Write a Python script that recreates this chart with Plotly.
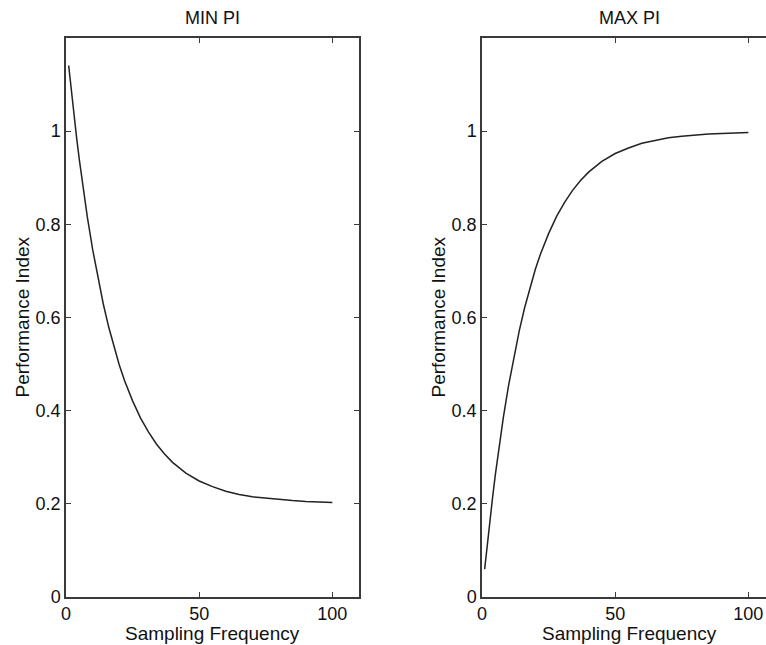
import plotly.graph_objects as go

freq = [1, 2, 3, 4, 5, 6, 8, 10, 12, 14, 16, 18, 20, 22, 25, 28, 31, 34, 37, 40,
        45, 50, 55, 60, 65, 70, 75, 80, 85, 90, 95, 100]
min_pi = [1.141, 1.086, 1.034, 0.985, 0.939, 0.895, 0.816, 0.746, 0.684, 0.629,
          0.580, 0.537, 0.498, 0.464, 0.421, 0.384, 0.354, 0.328, 0.307, 0.289,
          0.266, 0.249, 0.237, 0.227, 0.220, 0.215, 0.212, 0.209, 0.207, 0.205,
          0.204, 0.203]
max_pi = [0.060, 0.115, 0.166, 0.215, 0.262, 0.306, 0.385, 0.455, 0.517, 0.572,
          0.621, 0.664, 0.703, 0.737, 0.780, 0.817, 0.847, 0.873, 0.894, 0.912,
          0.935, 0.952, 0.964, 0.974, 0.980, 0.986, 0.989, 0.992, 0.994, 0.995,
          0.996, 0.997]
titles = ["MIN PI", "MAX PI"]
x_title = "Sampling Frequency"
y_title = "Performance Index"
y_tickvals = [0, 0.2, 0.4, 0.6, 0.8, 1.0]
y_ticktext = ["0", "0.2", "0.4", "0.6", "0.8", "1"]
x_tickvals = [0, 50, 100]
x_ticktext = ["0", "50", "100"]

FONT = "Liberation Sans, Arial, Helvetica, sans-serif"
AX = "#3a3a3a"
W, H = 766, 645
L1, R1 = 66, 359
L2, R2 = 482, 766
TOP, BOT = 38, 597
PH = BOT - TOP


def py(ypx):
    return (BOT - ypx) / PH


fig = go.Figure()
fig.add_trace(go.Scatter(x=freq, y=min_pi, mode="lines", line=dict(color="#222", width=1.5),
                         xaxis="x", yaxis="y", showlegend=False))
fig.add_trace(go.Scatter(x=freq, y=max_pi, mode="lines", line=dict(color="#222", width=1.5),
                         xaxis="x2", yaxis="y2", showlegend=False))

common_x = dict(tickvals=x_tickvals, ticktext=x_ticktext, ticks="inside", ticklen=5,
                tickcolor=AX, tickwidth=1.2, showline=True, linecolor=AX, linewidth=1.5,
                showgrid=False, zeroline=False, automargin=False,
                tickfont=dict(size=18, color="#111", family=FONT))
common_y = dict(tickvals=y_tickvals, ticktext=y_ticktext, ticks="inside", ticklen=5,
                tickcolor=AX, tickwidth=1.2, showline=True, linecolor=AX, linewidth=1.5,
                showgrid=False, zeroline=False, range=[0, 1.2], automargin=False,
                tickfont=dict(size=18, color="#111", family=FONT))

fig.update_layout(
    width=W, height=H,
    margin=dict(l=0, r=0, t=TOP, b=H - BOT, autoexpand=False),
    paper_bgcolor="white", plot_bgcolor="white",
    font=dict(family=FONT, color="#111"),
    hovermode=False,
    xaxis=dict(domain=[L1 / W, R1 / W], range=[0, 110], mirror="ticks", anchor="y", **common_x),
    yaxis=dict(domain=[0, 1], mirror="ticks", anchor="x", **common_y),
    xaxis2=dict(domain=[L2 / W, R2 / W], range=[0, (R2 - L2) / (R1 - L1) * 110], mirror="ticks",
                anchor="y2", **common_x),
    yaxis2=dict(domain=[0, 1], mirror=False, anchor="x2", **common_y),
)

ann = []
for cx, t in [((L1 + R1) / 2, titles[0]), ((L2 + 776) / 2, titles[1])]:
    ann.append(dict(x=cx / W, y=py(18), xref="paper", yref="paper", text=t,
                    showarrow=False, xanchor="center", yanchor="middle",
                    font=dict(size=18, family=FONT, color="#111")))
for cx in [(L1 + R1) / 2, (L2 + 776) / 2]:
    ann.append(dict(x=cx / W, y=py(633), xref="paper", yref="paper", text=x_title,
                    showarrow=False, xanchor="center", yanchor="middle",
                    font=dict(size=19, family=FONT, color="#111")))
for cx in [22, 438]:
    ann.append(dict(x=cx / W, y=py(317.5), xref="paper", yref="paper", text=y_title,
                    showarrow=False, xanchor="center", yanchor="middle", textangle=-90,
                    font=dict(size=19, family=FONT, color="#111")))
fig.update_layout(annotations=ann)

fig.write_html("out.html", config={"displayModeBar": False},
               post_script="document.body.style.margin='0px';"
                           "document.body.style.overflow='hidden';")
